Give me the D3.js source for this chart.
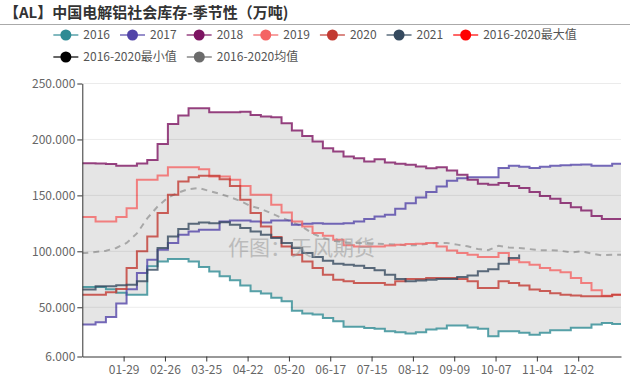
<!DOCTYPE html>
<html>
<head>
<meta charset="utf-8">
<script src="https://d3js.org/d3.v7.min.js"></script>
<style>
body { margin: 0; overflow: hidden; background: #fff; }
text { font-family: "Noto Sans CJK SC", "Noto Sans", sans-serif; }
.title { font-size: 15px; font-weight: bold; fill: #333; }
.legend text { font-size: 12px; fill: #555; }
.axis text { font-size: 12px; fill: #666; font-family: "Noto Sans CJK SC", sans-serif; }
.axis path, .axis line { stroke: #333; }
.watermark { font-size: 21px; fill: #999; opacity: .55; }
</style>
</head>
<body>
<svg width="630" height="380"></svg>
<script>
// weekly report dates (MM-DD), same calendar for every year
const weeks = ['01-03','01-10','01-17','01-24','01-31','02-07','02-14','02-21','02-28','03-06',
  '03-13','03-20','03-27','04-03','04-10','04-17','04-24','05-01','05-08','05-15',
  '05-22','05-29','06-05','06-12','06-19','06-26','07-03','07-10','07-17','07-24',
  '07-31','08-07','08-14','08-21','08-28','09-04','09-11','09-18','09-25','10-02',
  '10-09','10-16','10-23','10-30','11-06','11-13','11-20','11-27','12-04','12-11',
  '12-18','12-25'];

const s2016 = [68.2,68.2,66,63,61.3,61.3,86.6,91,93.2,93.2,91,86,82,77.7,74.1,69.4,64.3,62.2,58.4,55.4,
  47,44.4,43.5,40.5,37.5,32.5,32.5,31.5,30.7,28.5,27.7,26.5,27.7,30.1,31,33.6,33.6,32,30.7,24.1,
  28.6,28.6,27.2,25.5,27.2,29.5,29.5,31.6,31.6,34.5,36,35];
const s2017 = [34.5,36.6,41.4,53.3,66,80.6,92.5,101.4,107.4,114.8,117.8,119.3,119.3,126.7,127.6,127.6,126.7,125.8,127.6,127.6,
  123.7,124.6,125.2,124.6,124.6,125.2,126.7,128.8,131.2,132.7,138,143,148,153,158,163,165.4,166.3,166.3,166.3,
  174.5,176.4,175.5,174.5,175.5,176.4,177,177.3,177.5,176.4,176.4,178.2];
const s2018 = [178.8,178.5,178,176.4,176.4,178.5,181.7,196,213.8,221.3,227.8,227.8,224.3,224.3,224.3,224.8,221.9,220.4,219.8,214.4,
  207.9,203.1,198.1,192.1,189.2,184.7,183.3,180.3,182.3,179.4,178.2,177.3,175.8,174.3,175.2,172.2,168.4,163.9,160.3,159.4,
  161,158.5,156.5,153,149.5,147,143.1,139.5,136.5,131.5,129,128.8];
const s2019 = [130.6,126.7,126.7,130.6,138.6,163.9,163.9,167.8,175.2,175.2,175.2,173.4,166.9,166.9,163.9,158.5,150.5,150.5,141.6,134.8,
  126.7,122.3,116.3,113.9,110.4,105.5,104.4,104.4,104.4,105.3,105.9,106.5,106.8,107.4,104.4,100.8,98.5,97,94.9,94.9,
  98.5,92.5,90.2,88.1,85.1,83,81.2,76.2,71.7,65.2,60.4,61.3];
const s2020 = [61.3,61.3,63.4,66.4,85,100,113.3,134.2,150.5,162.4,166.3,167.5,167.5,164.5,158.5,146,134.2,122.3,112.8,104.4,
  97,91,85.1,79.1,74.7,73.2,71.8,71.8,71.8,70.2,73.2,75.3,75.3,76.2,76.2,76.2,75.3,73.2,67.3,67.3,
  73.2,71.8,69.4,65.8,64.5,62.5,61.3,60.5,59.8,59.8,59.8,61.3];
const s2021 = [65.8,68.7,68.7,69.6,70.2,73.2,83.6,103,113.3,119.9,124.6,125.8,125.2,126.1,123.7,120.8,117.8,114.8,111.9,107.4,
  103,98.5,94.9,91.6,89,88.1,87,85.1,83,79.1,75.3,73.2,74,74.5,75.3,75.3,77.1,78.5,82.2,84,
  89,94.1,97.1];
const meanVals = [98.5,99.5,100.5,103,107.5,116,129.5,140,148,152.5,155.6,156.5,154,151.5,148.5,145,140.5,138,134,130,
  126.5,122,116,112,109.5,108,107.5,107.5,107,106.5,106,105.5,105.5,106.5,107.5,107.5,106,104.5,102,101,
  105,103.5,103,102,101,101,100.5,99,100,98,96.5,97];

const yTicks = [6, 50, 100, 150, 200, 250];
const xTickLabels = ['01-29','02-26','03-25','04-22','05-20','06-17','07-15','08-12','09-09','10-07','11-04','12-02'];

const series = [
  {name: '2016', color: '#2e8b94', values: s2016},
  {name: '2017', color: '#5244a8', values: s2017},
  {name: '2018', color: '#7d1462', values: s2018},
  {name: '2019', color: '#f46464', values: s2019},
  {name: '2020', color: '#c23a32', values: s2020},
  {name: '2021', color: '#34495e', values: s2021}
];
const legendItems = series.map(s => ({name: s.name, color: s.color})).concat([
  {name: '2016-2020最大值', color: '#ff0000'},
  {name: '2016-2020最小值', color: '#000000'},
  {name: '2016-2020均值', color: '#6b6b6b'}
]);

const svg = d3.select('svg');
const W = 630;
const plotL = 82.3, plotR = 621, plotT = 83.5, plotB = 356.5;

// day of year on a leap-year calendar
const parseDay = d3.timeParse('%Y-%m-%d');
const jan1 = new Date(2020, 0, 1);
const dayOf = s => d3.timeDay.count(jan1, parseDay('2020-' + s));

const x = d3.scaleLinear().domain([0, 365]).range([plotL, plotR]);
const y = d3.scaleLinear().domain([6, 250]).range([plotB, plotT]);

// title
svg.append('text').attr('class', 'title')
  .attr('x', 4).attr('y', 18)
  .text('【AL】中国电解铝社会库存-季节性（万吨)');
svg.append('line')
  .attr('x1', 0).attr('x2', W).attr('y1', 24.5).attr('y2', 24.5)
  .attr('stroke', '#aaa');

// legend
const legendG = svg.append('g').attr('class', 'legend');
const breakAt = 7;
const items = legendG.selectAll('g').data(legendItems).enter().append('g');
items.append('line')
  .attr('x1', 0).attr('x2', 25)
  .attr('stroke', d => d.color).attr('stroke-width', 2).attr('stroke-opacity', .6);
items.append('circle')
  .attr('cx', 12.5).attr('r', 5.5).attr('fill', d => d.color);
items.append('text')
  .attr('x', 30).attr('dy', '0.35em')
  .text(d => d.name);

const widths = [];
items.each(function () {
  widths.push(30 + d3.select(this).select('text').node().getComputedTextLength());
});
const row1W = d3.sum(widths.slice(0, breakAt)) + 10 * (breakAt - 1);
const startX = (W - row1W) / 2;
let cx = startX;
items.attr('transform', (d, i) => {
  if (i === breakAt) cx = startX;
  const row = i < breakAt ? 0 : 1;
  const t = `translate(${cx},${row === 0 ? 35 : 57})`;
  cx += widths[i] + 10;
  return t;
});

// step points: first value held from day 0, full years held to day 365
const stepPoints = (vals, full) => {
  const pts = vals.map((v, i) => [dayOf(weeks[i]), v]);
  pts.unshift([0, vals[0]]);
  if (full) pts.push([365, vals[vals.length - 1]]);
  return pts;
};

svg.append('clipPath').attr('id', 'plot')
  .append('rect').attr('x', plotL).attr('y', plotT - 5)
  .attr('width', plotR - plotL).attr('height', plotB - plotT + 5);

const plot = svg.append('g').attr('clip-path', 'url(#plot)');

// 2016-2020 max / min band
const hist = series.filter(s => s.name !== '2021');
const band = weeks.map((w, i) => ({
  day: dayOf(w),
  lo: d3.min(hist, s => s.values[i]),
  hi: d3.max(hist, s => s.values[i])
}));
band.unshift(Object.assign({}, band[0], {day: 0}));
band.push(Object.assign({}, band[band.length - 1], {day: 365}));

plot.append('path')
  .attr('d', d3.area().curve(d3.curveStepAfter)
    .x(d => x(d.day)).y0(d => y(d.lo)).y1(d => y(d.hi))(band))
  .attr('fill', '#e5e5e5');

// grid
svg.append('g').selectAll('line').data(yTicks.slice(1)).enter().append('line')
  .attr('x1', plotL).attr('x2', plotR)
  .attr('y1', d => y(d)).attr('y2', d => y(d))
  .attr('stroke', '#000').attr('stroke-opacity', .08);

// watermark
svg.append('text').attr('class', 'watermark')
  .attr('x', 228).attr('y', 254.5)
  .text('作图：天风期货');

// mean
plot.append('path')
  .attr('d', d3.line().x(d => x(d[0])).y(d => y(d[1]))(stepPoints(meanVals, true)))
  .attr('fill', 'none').attr('stroke', '#a8a8a8')
  .attr('stroke-width', 2).attr('stroke-dasharray', '6,5');

const line = d3.line().curve(d3.curveStepAfter)
  .x(d => x(d[0])).y(d => y(d[1]));

plot.selectAll('.series').data(series).enter().append('path')
  .attr('class', 'series')
  .attr('d', d => line(stepPoints(d.values, d.values.length === weeks.length)))
  .attr('fill', 'none')
  .attr('stroke', d => d.color)
  .attr('stroke-width', 2)
  .attr('stroke-opacity', .8);

// axes
svg.append('g').attr('class', 'axis')
  .attr('transform', `translate(${plotL},0)`)
  .call(d3.axisLeft(y).tickValues(yTicks).tickFormat(d3.format('.3f'))
    .tickSize(5).tickSizeOuter(0).tickPadding(2));

svg.append('g').attr('class', 'axis')
  .attr('transform', `translate(0,${plotB})`)
  .call(d3.axisBottom(x).tickValues(xTickLabels.map(dayOf))
    .tickFormat((d, i) => xTickLabels[i])
    .tickSize(5).tickSizeOuter(0).tickPadding(4));
</script>
</body>
</html>
